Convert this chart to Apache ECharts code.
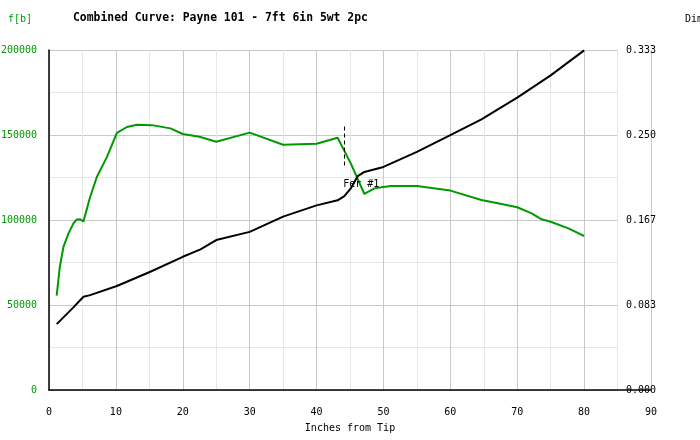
<!DOCTYPE html>
<html>
<head>
<meta charset="utf-8">
<script src="https://cdn.jsdelivr.net/npm/echarts@6/dist/echarts.min.js"></script>
<style>
html,body{margin:0;padding:0;background:#fff;}
#chart{width:700px;height:440px;}
</style>
</head>
<body>
<div id="chart"></div>
<script>
// Inches from tip, stiffness f[b] (left axis)
const stiffness = [
  [1.15,55500],[1.6,72000],[2.15,84000],[2.9,92000],[3.65,98000],[4.15,100300],[4.6,100500],
  [5.15,99200],[6.15,113500],[7.15,125300],[8.65,137000],[10.15,151200],[11.65,154700],
  [13.15,156000],[15.4,155800],[18.15,153900],[20,150600],[22.5,149000],[25,146000],
  [30,151400],[35,144300],[40,144900],[43.15,148400],[45.15,133000],[47.15,115300],
  [48.65,118600],[50,119400],[51.15,120000],[55,120000],[60,117300],[64.65,111800],
  [67.65,109400],[70,107500],[72.15,103900],[73.65,100400],[75,99000],[77.65,95100],[80,90600]
];
// Inches from tip, diameter Dim (right axis)
const diameter = [
  [1.15,0.0646],[3.65,0.081],[4.65,0.088],[5.15,0.0914],[6.15,0.093],[10.15,0.102],
  [15.15,0.1159],[20,0.1306],[22.65,0.1378],[25,0.147],[30,0.155],[35,0.170],[40,0.181],
  [43.15,0.186],[44.15,0.190],[45.15,0.198],[46.15,0.2096],[47.15,0.2138],[50,0.2187],
  [55,0.2334],[60,0.2498],[64.65,0.2654],[70,0.2867],[75,0.3085],[80,0.333]
];
// Ferrule marker
const ferrule = {name: 'Fer #1', x: 44.15, top: 155000, bottom: 131000};

const titleText = 'Combined Curve: Payne 101 - 7ft 6in 5wt 2pc';
const leftAxisName = 'f[b]';
const rightAxisName = 'Dim';
const xAxisName = 'Inches from Tip';

const GREEN = '#009900';
const MONO = '"DejaVu Sans Mono", "Liberation Mono", monospace';
const MAJOR = '#c8c8c8';
const MINOR = '#e6e6e6';

const chart = echarts.init(document.getElementById('chart'), null, {renderer: 'canvas'});
chart.setOption({
  animation: false,
  backgroundColor: '#fff',
  textStyle: {fontFamily: MONO},
  title: [
    {text: titleText, left: 68, top: 8, textStyle: {fontFamily: MONO, fontSize: 11.4, fontWeight: 'bold', color: '#000'}},
    {text: leftAxisName, left: 3, top: 9, textStyle: {fontFamily: MONO, fontSize: 10, fontWeight: 'normal', color: GREEN}},
    {text: rightAxisName, left: 680, top: 9, textStyle: {fontFamily: MONO, fontSize: 10, fontWeight: 'normal', color: '#000'}}
  ],
  grid: [
    {left: 49, right: 49, top: 50, bottom: 50, outerBoundsMode: 'none', containLabel: false},
    {left: 49, right: 83, top: 50, bottom: 50, outerBoundsMode: 'none', containLabel: false}
  ],
  xAxis: [
    {
      type: 'value', gridIndex: 0, min: 0, max: 90, interval: 10,
      name: xAxisName, nameLocation: 'middle', nameGap: 33,
      nameTextStyle: {fontFamily: MONO, fontSize: 10, color: '#000'},
      axisLine: {show: true, lineStyle: {color: '#000', width: 1.5}},
      axisTick: {show: false},
      axisLabel: {fontFamily: MONO, fontSize: 10, color: '#000', margin: 17},
      splitLine: {show: true, lineStyle: {color: MAJOR, width: 1}},
      minorTick: {show: false, splitNumber: 2},
      minorSplitLine: {show: true, lineStyle: {color: MINOR, width: 1}}
    },
    {
      type: 'value', gridIndex: 1, min: 0, max: 85, show: false
    }
  ],
  yAxis: [
    {
      type: 'value', gridIndex: 0, position: 'left', min: 0, max: 200000, interval: 50000,
      axisLine: {show: true, lineStyle: {color: '#000', width: 1.5}},
      axisTick: {show: false},
      axisLabel: {fontFamily: MONO, fontSize: 10, color: GREEN, margin: 12, padding: [0,0,6,0],
        formatter: v => String(Math.round(v))},
      splitLine: {show: false}
    },
    {
      type: 'value', gridIndex: 0, position: 'right', min: 0, max: 1/3, interval: 1/12, offset: -34,
      axisLine: {show: false},
      axisTick: {show: false},
      axisLabel: {fontFamily: MONO, fontSize: 10, color: '#000', margin: 9, padding: [0,0,6,0],
        formatter: v => v.toFixed(3)},
      splitLine: {show: false}
    },
    {
      type: 'value', gridIndex: 1, min: 0, max: 200000, interval: 50000,
      axisLine: {show: false}, axisTick: {show: false}, axisLabel: {show: false},
      splitLine: {show: true, lineStyle: {color: MAJOR, width: 1}},
      minorTick: {show: false, splitNumber: 2},
      minorSplitLine: {show: true, lineStyle: {color: MINOR, width: 1}}
    }
  ],
  series: [
    {
      type: 'line', name: leftAxisName, xAxisIndex: 0, yAxisIndex: 0,
      data: stiffness, showSymbol: false, symbol: 'none',
      lineStyle: {color: GREEN, width: 2}, z: 3,
      markLine: {
        silent: true, symbol: 'none', animation: false,
        lineStyle: {color: '#000', type: [4, 3], width: 1},
        label: {show: false},
        data: [[{coord: [ferrule.x, ferrule.top]}, {coord: [ferrule.x, ferrule.bottom]}]]
      },
      markPoint: {
        silent: true, symbol: 'rect', symbolSize: 0, animation: false,
        label: {show: true, position: 'inside', offset: [17, 17], formatter: ferrule.name,
          fontFamily: MONO, fontSize: 10, color: '#000'},
        data: [{coord: [ferrule.x, ferrule.bottom]}]
      }
    },
    {
      type: 'line', name: rightAxisName, xAxisIndex: 0, yAxisIndex: 1,
      data: diameter, showSymbol: false, symbol: 'none',
      lineStyle: {color: '#000', width: 2}, z: 4
    }
  ]
});
</script>
</body>
</html>
